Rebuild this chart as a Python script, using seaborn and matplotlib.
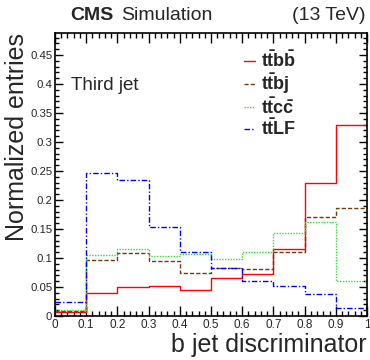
import numpy as np
import pandas as pd
import matplotlib
matplotlib.use("Agg")
import matplotlib.pyplot as plt
import seaborn as sns
from matplotlib.lines import Line2D
from matplotlib.ticker import MultipleLocator, FuncFormatter

# ---- data ----
bin_edges = [0.0, 0.1, 0.2, 0.3, 0.4, 0.5, 0.6, 0.7, 0.8, 0.9, 1.0]
ttbb = [0.007, 0.040, 0.050, 0.052, 0.045, 0.066, 0.072, 0.116, 0.229, 0.330]
ttbj = [0.009, 0.097, 0.108, 0.094, 0.075, 0.083, 0.081, 0.110, 0.171, 0.187]
ttcc = [0.011, 0.106, 0.116, 0.104, 0.107, 0.098, 0.111, 0.143, 0.162, 0.060]
ttlf = [0.024, 0.247, 0.234, 0.154, 0.111, 0.083, 0.061, 0.052, 0.038, 0.013]
labels = [r"$\mathbf{t\bar{t}b\bar{b}}$", r"$\mathbf{t\bar{t}bj}$",
          r"$\mathbf{t\bar{t}c\bar{c}}$", r"$\mathbf{t\bar{t}LF}$"]
colors = ["#ff0000", "#6b3a10", "#33dd33", "#0000ff"]
styles = ["-", (0, (3, 1.5)), (0, (1, 1)), (0, (4, 1.5, 1, 1.5))]

sns.set_theme(style="white")
plt.rcParams["font.family"] = ["Liberation Sans", "DejaVu Sans"]
plt.rcParams["mathtext.fontset"] = "custom"
plt.rcParams["mathtext.rm"] = "Liberation Sans"
plt.rcParams["mathtext.bf"] = "Liberation Sans:bold"
plt.rcParams["mathtext.it"] = "Liberation Sans:italic"

fig = plt.figure(figsize=(3.7, 3.6), dpi=100)
ax = fig.add_axes([55 / 370, 1 - 316 / 360, 312 / 370, 283 / 360])

centers = [(bin_edges[i] + bin_edges[i + 1]) / 2 for i in range(len(bin_edges) - 1)]
handles = []
for vals, c, ls, lab in zip([ttbb, ttbj, ttcc, ttlf], colors, styles, labels):
    df = pd.DataFrame({"x": centers, "w": vals})
    sns.histplot(data=df, x="x", weights="w", bins=bin_edges, element="step",
                 fill=False, color=c, linestyle=ls, linewidth=1.0, ax=ax)
    handles.append(Line2D([0], [0], color=c, linestyle=ls, linewidth=1.0, label=lab))

ax.set_xlim(0, 1)
ax.set_ylim(0, 0.488)
ax.xaxis.set_major_locator(MultipleLocator(0.1))
ax.xaxis.set_minor_locator(MultipleLocator(0.02))
ax.yaxis.set_major_locator(MultipleLocator(0.05))
ax.yaxis.set_minor_locator(MultipleLocator(0.01))
fmt = FuncFormatter(lambda v, p: ("%g" % round(v, 3)))
ax.xaxis.set_major_formatter(fmt)
ax.yaxis.set_major_formatter(fmt)
ax.tick_params(which="both", direction="in", top=True, right=True,
               bottom=True, left=True, color="black", width=1.0)
ax.tick_params(axis="x", which="both", labelsize=8.5, pad=2)
ax.tick_params(axis="y", which="both", labelsize=8.2, pad=2)
ax.tick_params(axis="x", which="major", length=7)
ax.tick_params(axis="x", which="minor", length=3.5)
ax.tick_params(axis="y", which="major", length=5.5)
ax.tick_params(axis="y", which="minor", length=3)
for s in ax.spines.values():
    s.set_color("black")
    s.set_linewidth(1.2)

ax.set_xlabel("b jet discriminator", fontsize=18, loc="right")
ax.xaxis.set_label_coords(1.0, -0.06)
ax.set_ylabel("Normalized entries", fontsize=18, loc="top")
ax.yaxis.set_label_coords(-0.082, 1.0)

ax.text(0.05, 0.815, "Third jet", transform=ax.transAxes, fontsize=13.5,
        va="center", ha="left")

ax.legend(handles=handles, loc="upper left", bbox_to_anchor=(0.605, 0.94),
          frameon=False, prop={"size": 13, "weight": "bold"},
          handlelength=0.6, handletextpad=0.35, labelspacing=0.02,
          borderpad=0, borderaxespad=0)

fig.text(70 / 370, 1 - 15 / 360, "CMS", fontsize=14, fontweight="bold",
         va="center", ha="left")
fig.text(121 / 370, 1 - 15 / 360, "Simulation", fontsize=14,
         va="center", ha="left")
fig.text(366 / 370, 1 - 15 / 360, "(13 TeV)", fontsize=14,
         va="center", ha="right")

fig.savefig("out.png", dpi=100)
